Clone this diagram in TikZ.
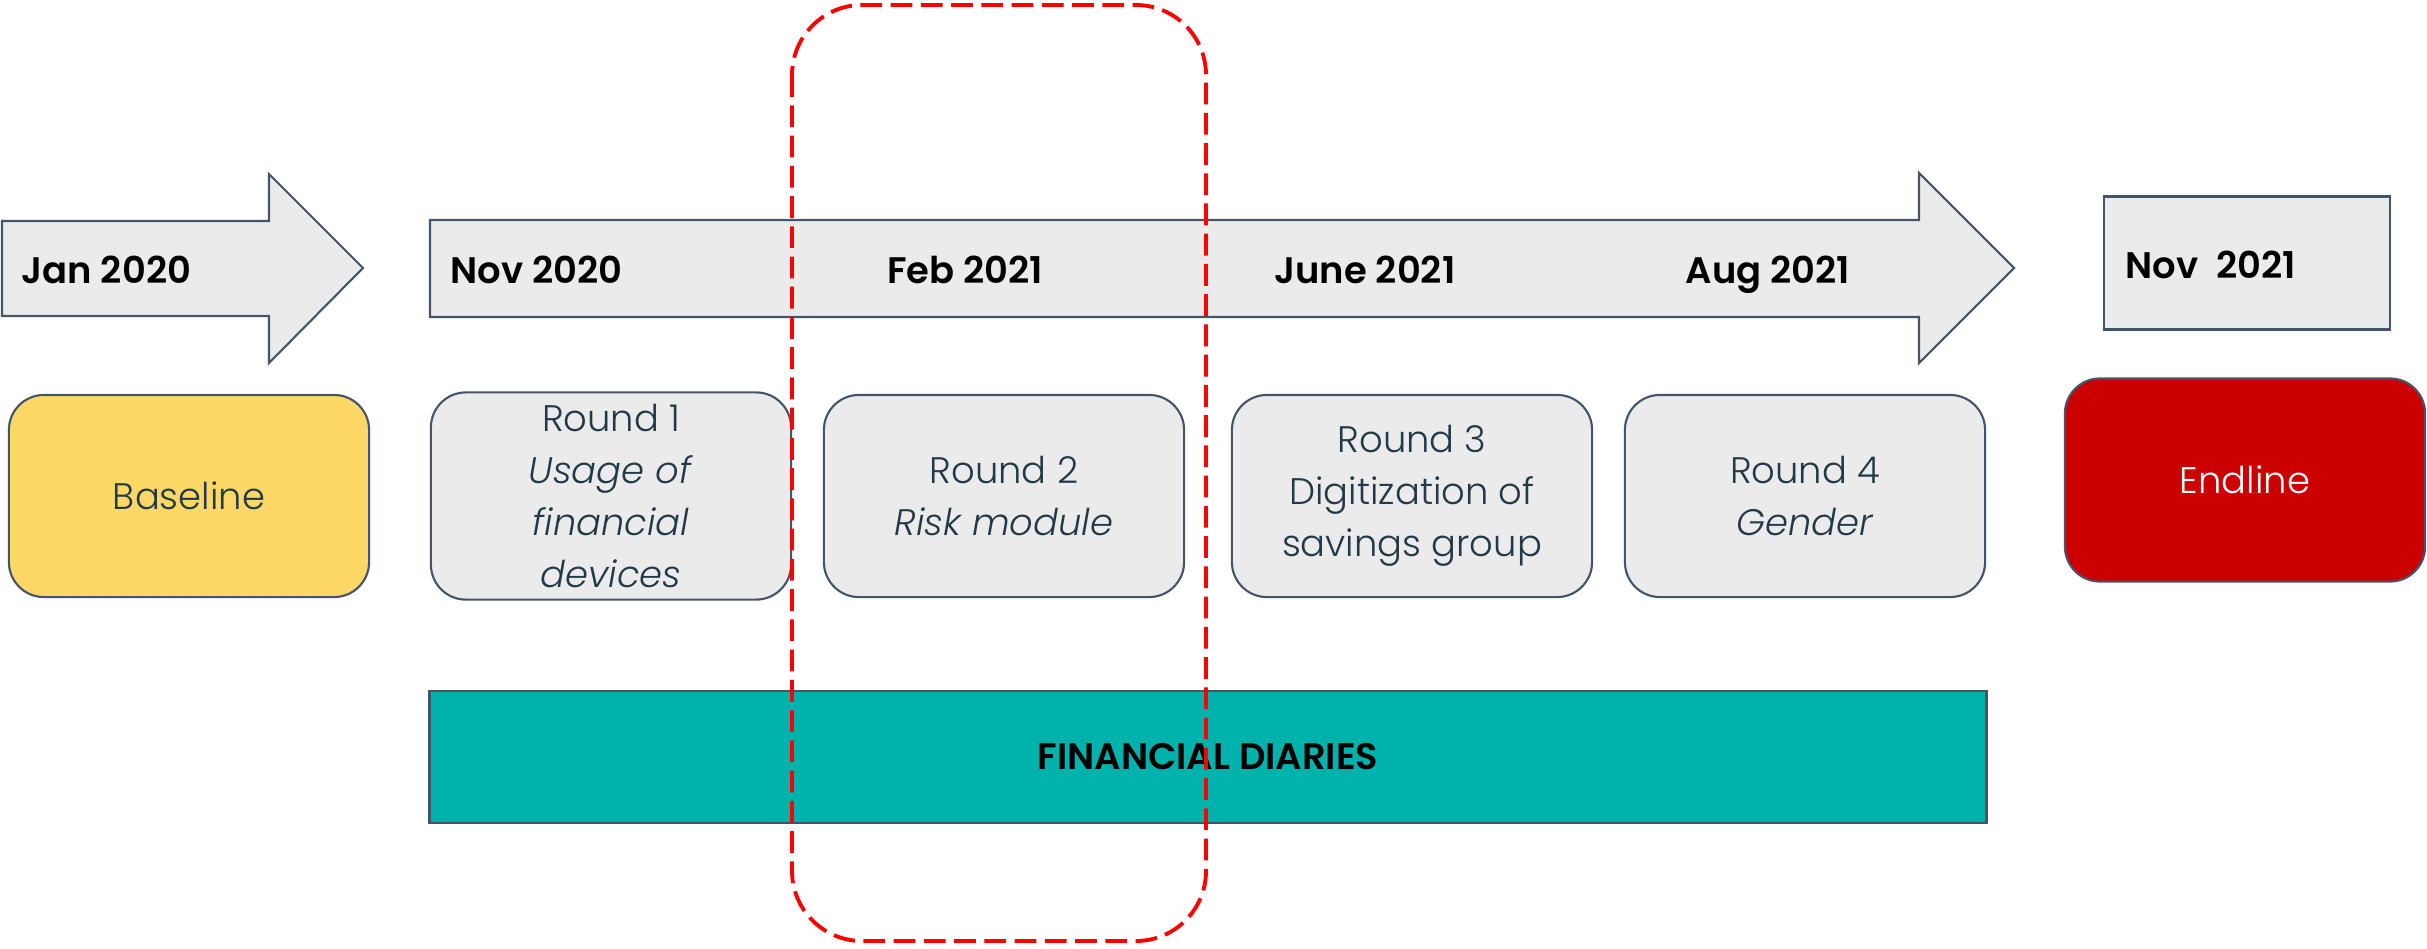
\documentclass[tikz,border=0pt]{standalone}
\usepackage{fontspec}
\setmainfont{Poppins}[UprightFont=* Light,ItalicFont=* Light Italic,BoldFont=* SemiBold]
\usepackage{tikz}

\definecolor{slate}{HTML}{44546A}
\definecolor{lightgrey}{HTML}{EBEBEB}
\definecolor{sand}{HTML}{FDD866}
\definecolor{darkred}{HTML}{CC0000}
\definecolor{teal}{HTML}{00B2AC}
\definecolor{boxtext}{HTML}{223A47}

\tikzset{
    roundbox/.style={rounded corners=0.35cm,draw=slate,line width=0.6pt,fill=lightgrey,
        minimum width=3.6cm,minimum height=2.02cm,align=center,text=boxtext,
        font=\fontsize{10.5}{14.8}\selectfont},
    datelabel/.style={font=\fontsize{10.5}{12}\selectfont\bfseries,text=black,inner sep=0pt,anchor=base},
    timearrow/.style={draw=slate,line width=0.6pt,fill=lightgrey}
}

\begin{document}
\begin{tikzpicture}[x=0.01cm,y=-0.01cm]
    \useasboundingbox (0,0) rectangle (2427,948);

    \path[timearrow] (2,221) -- (269,221) -- (269,174) -- (363,268) -- (269,363) -- (269,316) -- (2,316) -- cycle;
    \path[timearrow] (430,220) -- (1919,220) -- (1919,173) -- (2014,268) -- (1919,363) -- (1919,317) -- (430,317) -- cycle;
    \node[draw=slate,line width=0.6pt,fill=lightgrey,minimum width=2.85cm,minimum height=1.33cm] (nov21box) at (2247,263) {};

    \begin{scope}[every node/.style={datelabel}]
        \node[anchor=base west] (jan20) at (21,283) {Jan 2020};
        \node[anchor=base west] (nov20) at (450,283) {Nov 2020};
        \node (feb21) at (965,283) {Feb 2021};
        \node (jun21) at (1365,283) {June 2021};
        \node (aug21) at (1768,283) {Aug 2021};
        \node[anchor=base west] (nov21) at (2125,278) {Nov\ \ 2021};
    \end{scope}

    \begin{scope}[every node/.style={roundbox}]
        \node[fill=sand] (baseline) at (189,496) {Baseline};
        \node (round1) at (611,496) {Round 1\\\textit{Usage of}\\\textit{financial}\\\textit{devices}};
        \node (round2) at (1004,496) {Round 2\\\textit{Risk module}};
        \node (round3) at (1412,496) {Round 3\\Digitization of\\savings group};
        \node (round4) at (1805,496) {Round 4\\\textit{Gender}};
        \node[fill=darkred,text=white,minimum height=2.03cm] (endline) at (2245,480) {Endline};
    \end{scope}

    \node[draw=slate,line width=0.6pt,fill=teal,minimum width=15.56cm,minimum height=1.32cm,
        font=\fontsize{10.5}{12}\selectfont\bfseries] (diaries) at (1208,757) {FINANCIAL DIARIES};

    % highlighted round
    \draw[red,line width=1.1pt,dash pattern=on 6.2pt off 2.4pt,rounded corners=0.7cm]
        (792,5) rectangle (1206,941);
\end{tikzpicture}
\end{document}
